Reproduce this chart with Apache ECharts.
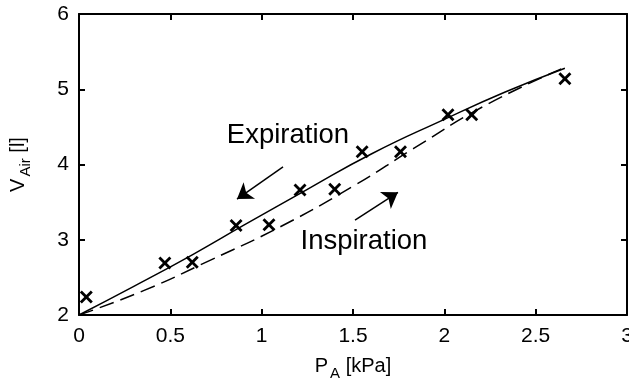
<!DOCTYPE html>
<html lang="en">
<head>
<meta charset="UTF-8"/>
<script src="https://cdn.jsdelivr.net/npm/echarts@6/dist/echarts.min.js"></script>
<title>P-V</title>
<style>html,body{margin:0;padding:0;background:#fff;}</style>
</head>
<body>
<div id="main" style="width:629px;height:386px;"></div>
<script type="text/javascript">
// measured points
var pressure = [0.04, 0.47, 0.62, 0.86, 1.04, 1.21, 1.40, 1.55, 1.76, 2.02, 2.15, 2.66];
var volume   = [2.24, 2.69, 2.70, 3.19, 3.20, 3.66, 3.67, 4.17, 4.17, 4.66, 4.66, 5.14];

// expiration branch (solid)
var expP = [0, 0.30, 0.62, 0.90, 1.25, 1.60, 2.00, 2.33, 2.66];
var expV = [2, 2.38, 2.80, 3.19, 3.67, 4.14, 4.60, 4.96, 5.28];

// inspiration branch (dashed)
var inspP = [0, 0.36, 0.72, 1.10, 1.50, 1.83, 2.22, 2.64];
var inspV = [2, 2.33, 2.73, 3.17, 3.71, 4.21, 4.78, 5.27];

function pairs(a, b) {
    var out = [];
    for (var i = 0; i < a.length; i++) out.push([a[i], b[i]]);
    return out;
}

var myChart = echarts.init(document.getElementById('main'));
var font = 'Liberation Sans';
var cross = 'path://M0,2 L2,0 L6.5,4.5 L11,0 L13,2 L8.5,6.5 L13,11 L11,13 L6.5,8.5 L2,13 L0,11 L4.5,6.5 Z';

var lineAx = {show: true, onZero: false, lineStyle: {color: '#000', width: 2}};
var tickAx = {show: true, inside: true, length: 6, lineStyle: {color: '#000', width: 2}};
var nameRich = {
    a: {fontFamily: font, fontSize: 20, color: '#000'},
    s: {fontFamily: font, fontSize: 15, color: '#000', padding: [14, 0, 0, 2]}
};

option = {
    backgroundColor: '#fff',
    animation: false,
    grid: {left: 79, right: 2, top: 14, bottom: 71, outerBoundsMode: 'none', containLabel: false},
    xAxis: [
        {
            type: 'value', position: 'bottom', min: 0, max: 3, interval: 0.5,
            axisLine: lineAx, axisTick: tickAx, splitLine: {show: false},
            axisLabel: {color: '#000', fontFamily: font, fontSize: 21, margin: 11,
                showMaxLabel: true, hideOverlap: false},
            name: '{a|P}{s|A}{a| [kPa]}',
            nameLocation: 'middle', nameGap: 37,
            nameTextStyle: {rich: nameRich}
        },
        {
            type: 'value', position: 'top', min: 0, max: 3, interval: 0.5,
            axisLine: lineAx, axisTick: tickAx, splitLine: {show: false},
            axisLabel: {show: false}
        }
    ],
    yAxis: [
        {
            type: 'value', position: 'left', min: 2, max: 6, interval: 1,
            axisLine: lineAx, axisTick: tickAx, splitLine: {show: false},
            axisLabel: {color: '#000', fontFamily: font, fontSize: 21, margin: 10},
            name: '{a|V}{s|Air}{a| [l]}',
            nameLocation: 'middle', nameGap: 46, nameRotate: 90,
            nameTextStyle: {rich: nameRich}
        },
        {
            type: 'value', position: 'right', min: 2, max: 6, interval: 1,
            axisLine: lineAx, axisTick: tickAx, splitLine: {show: false},
            axisLabel: {show: false}
        }
    ],
    series: [
        {
            name: 'Expiration', type: 'line', data: pairs(expP, expV),
            smooth: 0.5, symbol: 'none',
            lineStyle: {color: '#000', width: 1.5}
        },
        {
            name: 'Inspiration', type: 'line', data: pairs(inspP, inspV),
            smooth: 0.5, symbol: 'none',
            lineStyle: {color: '#000', width: 1.5, type: [15, 7]}
        },
        {
            name: 'Measured', type: 'scatter', data: pairs(pressure, volume),
            symbol: cross, symbolSize: 13,
            itemStyle: {color: '#000', opacity: 1}, z: 5
        },
        {
            type: 'lines', coordinateSystem: 'cartesian2d', polyline: false,
            symbol: ['none', 'arrow'], symbolSize: [9, 15],
            lineStyle: {color: '#000', width: 1.5, opacity: 1},
            data: [
                {coords: [[1.117, 3.967], [0.865, 3.54]]},
                {coords: [[1.511, 3.26], [1.746, 3.63]]}
            ]
        },
        {
            type: 'scatter', symbolSize: 1,
            itemStyle: {color: 'rgba(0,0,0,0)', opacity: 1},
            label: {show: true, position: 'inside', color: '#000', fontFamily: font, fontSize: 27.5,
                formatter: function (p) { return p.name; }},
            data: [
                {name: 'Expiration', value: [1.144, 4.39]},
                {name: 'Inspiration', value: [1.56, 2.98]}
            ]
        }
    ]
};

myChart.setOption(option);
</script>
</body>
</html>
